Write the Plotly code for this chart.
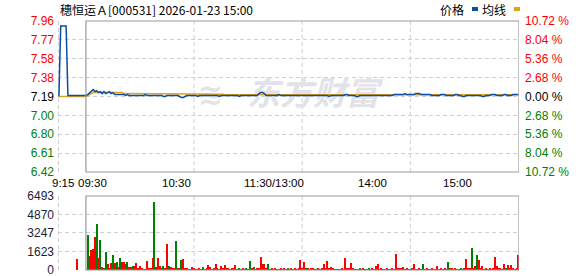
import plotly.graph_objects as go

# ---------------- data ----------------
prev_close = 7.19
title_text = "穗恒运Ａ[000531] 2026-01-23 15:00"

# call-auction minutes (9:15 .. 9:29) as offsets from 9:30
pre_minutes = [-15, -14, -13, -12, -11, -10, -9, -8, -7, -6, -5, -4, -3, -2, -1]
pre_price = [7.19, 7.91, 7.91, 7.91, 7.91, 7.20, 7.20, 7.20, 7.20, 7.20, 7.20, 7.20, 7.20, 7.20, 7.20]
pre_avg = [7.19, 7.19, 7.19, 7.19, 7.19, 7.19, 7.19, 7.19, 7.19, 7.19, 7.19, 7.19, 7.19, 7.19, 7.19]

# continuous session, minute index 0 (9:30) .. 240 (15:00), lunch collapsed
session_price = [
    7.20, 7.21, 7.23, 7.25, 7.26, 7.24, 7.25, 7.23, 7.24, 7.22,
    7.24, 7.22, 7.23, 7.24, 7.22, 7.23, 7.21, 7.21, 7.21, 7.21,
    7.21, 7.21, 7.20, 7.21, 7.20, 7.20, 7.20, 7.20, 7.20, 7.20,
    7.20, 7.20, 7.20, 7.21, 7.20, 7.20, 7.20, 7.20, 7.20, 7.20,
    7.20, 7.20, 7.20, 7.19, 7.19, 7.20, 7.20, 7.20, 7.20, 7.20,
    7.20, 7.20, 7.19, 7.18, 7.18, 7.19, 7.20, 7.20, 7.20, 7.20,
    7.20, 7.20, 7.19, 7.20, 7.20, 7.20, 7.20, 7.20, 7.20, 7.20,
    7.20, 7.20, 7.20, 7.20, 7.19, 7.20, 7.20, 7.20, 7.20, 7.20,
    7.20, 7.20, 7.20, 7.20, 7.20, 7.19, 7.20, 7.20, 7.20, 7.20,
    7.20, 7.20, 7.20, 7.20, 7.20, 7.20, 7.22, 7.23, 7.23, 7.22,
    7.20, 7.20, 7.20, 7.20, 7.20, 7.20, 7.20, 7.21, 7.20, 7.20,
    7.20, 7.20, 7.20, 7.20, 7.20, 7.20, 7.20, 7.20, 7.20, 7.20,
    7.20, 7.20, 7.20, 7.20, 7.20, 7.20, 7.20, 7.20, 7.20, 7.20,
    7.20, 7.20, 7.20, 7.20, 7.20, 7.19, 7.20, 7.20, 7.20, 7.20,
    7.20, 7.20, 7.20, 7.20, 7.21, 7.21, 7.20, 7.20, 7.20, 7.20,
    7.19, 7.19, 7.20, 7.20, 7.20, 7.20, 7.20, 7.20, 7.20, 7.20,
    7.20, 7.20, 7.20, 7.20, 7.20, 7.20, 7.20, 7.20, 7.20, 7.20,
    7.20, 7.21, 7.21, 7.21, 7.21, 7.21, 7.21, 7.22, 7.21, 7.21,
    7.21, 7.21, 7.21, 7.22, 7.22, 7.22, 7.21, 7.21, 7.21, 7.21,
    7.21, 7.21, 7.20, 7.20, 7.20, 7.20, 7.20, 7.21, 7.21, 7.21,
    7.20, 7.20, 7.20, 7.20, 7.20, 7.21, 7.21, 7.20, 7.20, 7.19,
    7.19, 7.20, 7.20, 7.20, 7.20, 7.20, 7.20, 7.20, 7.20, 7.20,
    7.19, 7.19, 7.20, 7.20, 7.20, 7.21, 7.21, 7.21, 7.20, 7.20,
    7.20, 7.20, 7.21, 7.21, 7.20, 7.20, 7.20, 7.21, 7.21, 7.21,
    7.21,
]
session_avg = [
    7.19, 7.20, 7.21, 7.22, 7.23, 7.23, 7.23, 7.23, 7.23, 7.23,
    7.23, 7.23, 7.23, 7.23, 7.23, 7.23, 7.23, 7.23, 7.23, 7.23,
    7.23, 7.22, 7.22, 7.22, 7.22, 7.22, 7.22, 7.22, 7.22, 7.22,
    7.22, 7.22, 7.22, 7.22, 7.22, 7.22, 7.22, 7.22, 7.214, 7.214,
    7.214, 7.214, 7.214, 7.214, 7.214, 7.214, 7.214, 7.214, 7.214, 7.214,
    7.214, 7.214, 7.214, 7.214, 7.214, 7.214, 7.214, 7.214, 7.214, 7.214,
    7.214, 7.214, 7.214, 7.214, 7.214, 7.214, 7.214, 7.214, 7.214, 7.214,
    7.214, 7.214, 7.214, 7.214, 7.214, 7.214, 7.214, 7.207, 7.207, 7.207,
    7.207, 7.207, 7.207, 7.207, 7.207, 7.207, 7.207, 7.207, 7.207, 7.207,
    7.207, 7.207, 7.207, 7.207, 7.207, 7.207, 7.207, 7.207, 7.207, 7.207,
    7.207, 7.207, 7.207, 7.207, 7.207, 7.207, 7.207, 7.207, 7.207, 7.207,
    7.207, 7.207, 7.207, 7.207, 7.207, 7.207, 7.207, 7.207, 7.207, 7.207,
    7.207, 7.207, 7.207, 7.207, 7.207, 7.207, 7.207, 7.207, 7.207, 7.207,
    7.207, 7.207, 7.207, 7.207, 7.207, 7.207, 7.207, 7.207, 7.207, 7.207,
    7.207, 7.207, 7.207, 7.207, 7.207, 7.207, 7.207, 7.207, 7.207, 7.207,
    7.207, 7.207, 7.207, 7.207, 7.207, 7.207, 7.207, 7.207, 7.207, 7.207,
    7.207, 7.207, 7.207, 7.207, 7.207, 7.207, 7.207, 7.207, 7.207, 7.207,
    7.207, 7.207, 7.207, 7.207, 7.207, 7.207, 7.207, 7.207, 7.207, 7.207,
    7.207, 7.207, 7.207, 7.207, 7.207, 7.207, 7.207, 7.207, 7.207, 7.207,
    7.207, 7.207, 7.207, 7.207, 7.207, 7.207, 7.207, 7.207, 7.207, 7.207,
    7.207, 7.207, 7.207, 7.207, 7.207, 7.207, 7.207, 7.207, 7.207, 7.207,
    7.207, 7.207, 7.207, 7.207, 7.207, 7.207, 7.207, 7.207, 7.207, 7.207,
    7.207, 7.207, 7.207, 7.207, 7.207, 7.207, 7.207, 7.207, 7.207, 7.207,
    7.207, 7.207, 7.207, 7.207, 7.207, 7.207, 7.207, 7.207, 7.207, 7.207,
    7.207,
]

# volume: 9:25 auction bar then one bar per minute 9:31 .. 15:00
auction_vol_minute = -5
auction_vol = 975
auction_dir = "r"
session_vol = [
    3071, 1228, 1755, 1843, 2866, 4036, 1053, 2632, 234, 150,
    1579, 526, 100, 614, 1316, 614, 702, 234, 1053, 702,
    702, 526, 702, 234, 234, 351, 385, 614, 200, 351,
    100, 80, 80, 790, 100, 100, 1053, 5966, 234, 1053,
    351, 100, 385, 200, 2281, 385, 234, 100, 100, 2544,
    90, 90, 877, 965, 150, 90, 80, 80, 234, 90,
    80, 80, 90, 80, 234, 80, 90, 400, 300, 80,
    90, 526, 90, 80, 351, 90, 400, 200, 90, 80,
    200, 200, 400, 80, 90, 80, 90, 80, 90, 80,
    790, 90, 234, 80, 90, 150, 1140, 526, 526, 90,
    526, 80, 90, 80, 90, 80, 80, 90, 80, 90,
    80, 90, 80, 90, 80, 90, 80, 90, 877, 90,
    702, 150, 90, 80, 90, 200, 80, 80, 90, 80,
    90, 526, 90, 790, 90, 234, 90, 80, 80, 80,
    80, 90, 80, 1053, 90, 90, 614, 90, 80, 80,
    80, 150, 80, 90, 80, 80, 90, 80, 90, 80,
    351, 526, 80, 90, 80, 80, 90, 80, 80, 90,
    80, 1404, 200, 200, 90, 234, 80, 90, 80, 80,
    90, 526, 80, 80, 90, 80, 526, 80, 90, 80,
    80, 90, 80, 80, 351, 80, 90, 80, 90, 80,
    702, 90, 200, 80, 90, 80, 80, 90, 80, 90,
    965, 90, 90, 1930, 90, 351, 1316, 877, 90, 351,
    80, 90, 80, 200, 80, 90, 1140, 351, 90, 100,
    80, 526, 90, 440, 90, 440, 90, 80, 90, 1316,
]
session_dir = (
    "grrrrgrgrg" "grrrgrgrgr" "rrgrrgrrrr" "rgrrrrrgrr" "rrgrrgrrrg"
    "rggrrrrrrr" "grrrgrrrrr" "rrrgrrrrrr" "rrrrgrrrgr" "grgrrrrrrr"
    "grrgrrrrgr" "rgrrrrrrrr" "rgrrrrrrrr" "rrrrrrrrrg" "rrrrrrrrrr"
    "rgrrrrgrrr" "rrrrrrrrrr" "rrrrrrgrrr" "rrrrrrgrrr" "rrgrrrrrrr"
    "grrrrrrgrr" "rrrgrrgrrr" "rrgrrrrrrr" "rrgrrrrrrr"
)

left_ticks = ["6.42", "6.61", "6.80", "7.00", "7.19", "7.38", "7.58", "7.77", "7.96"]
right_ticks = ["10.72 %", "8.04 %", "5.36 %", "2.68 %", "0.00 %", "2.68 %", "5.36 %", "8.04 %", "10.72 %"]
pct_steps = [-4, -3, -2, -1, 0, 1, 2, 3, 4]
pct_unit = 0.0268
vol_ticks = [0, 1623, 3247, 4870, 6493]
time_labels = ["9:15", "09:30", "10:30", "11:30/13:00", "14:00", "15:00"]
time_label_pos = [-13.0, 3.7, 50.3, 104.5, 159.1, 206.2]
grid_minutes = [60, 120, 180]

# ---------------- style ----------------
RED = "#ff0000"
GREEN = "#008000"
BLACK = "#000000"
PRICE_C = "#0b4ea2"
AVG_C = "#e3a21a"
GRID_C = "#cfcfcf"
BOX_C = "#9a9a9a"
DASH = "4px,3px"
FONT = "Liberation Sans"
CJK = "Noto Sans CJK SC"
WM_C = "#e2e2e8"

x_all = pre_minutes + list(range(0, 241))
price_all = pre_price + session_price
avg_all = pre_avg + session_avg

vol_x = [auction_vol_minute] + list(range(1, 241))
vol_y = [auction_vol] + session_vol
vol_c = [RED if d == "r" else GREEN for d in (auction_dir + session_dir)]

tickvals = [prev_close * (1 + s * pct_unit) for s in pct_steps]
def colored(txt, s):
    c = RED if s > 0 else (GREEN if s < 0 else BLACK)
    return f"<span style='color:{c}'>{txt}</span>"
left_text = [colored(t, s) for t, s in zip(left_ticks, pct_steps)]
right_text = [colored(t, s) for t, s in zip(right_ticks, pct_steps)]

H, W = 276, 578
ML, MR = 58, 59
mt, mb = 21, 6
ph = H - mt - mb
pw = W - ML - MR
price_dom = [(H - mb - 172) / ph, 1.0]
vol_dom = [0.0, (H - mb - 196) / ph]

xr = [-15.5, 240.3]

def px_x(p):
    return (p - ML) / pw

def px_y(p):
    return (H - mb - p) / ph

fig = go.Figure()

# watermark below the lines
fig.add_trace(go.Scatter(
    x=[126.0], y=[7.183], mode="text", text=["<b><i>东方财富</i></b>"],
    textfont=dict(family=CJK, size=33, color=WM_C),
    xaxis="x", yaxis="y", hoverinfo="skip", showlegend=False,
))
fig.add_trace(go.Scatter(
    x=[69.0], y=[7.183], mode="text", text=["<b>≋</b>"],
    textfont=dict(family="DejaVu Sans", size=30, color=WM_C),
    xaxis="x", yaxis="y", hoverinfo="skip", showlegend=False,
))
fig.add_trace(go.Scatter(
    x=x_all, y=avg_all, mode="lines", line=dict(color=AVG_C, width=1.5),
    xaxis="x", yaxis="y", showlegend=False, hoverinfo="skip",
))
fig.add_trace(go.Scatter(
    x=x_all, y=price_all, mode="lines", line=dict(color=PRICE_C, width=1.5),
    xaxis="x", yaxis="y", showlegend=False, hoverinfo="skip",
))
# right-axis companion (invisible)
fig.add_trace(go.Scatter(
    x=[xr[0]], y=[prev_close], mode="markers", marker=dict(opacity=0),
    xaxis="x", yaxis="y2", showlegend=False, hoverinfo="skip",
))
fig.add_trace(go.Bar(
    x=vol_x, y=vol_y, marker=dict(color=vol_c, line=dict(width=0)), width=0.6,
    xaxis="x2", yaxis="y3", showlegend=False, hoverinfo="skip",
))

yrange = [tickvals[0], tickvals[-1]]
fig.update_layout(
    width=W, height=H,
    margin=dict(l=ML, r=MR, t=mt, b=mb, pad=0, autoexpand=False),
    paper_bgcolor="white", plot_bgcolor="white",
    bargap=0,
    xaxis=dict(domain=[0, 1], range=xr, anchor="y", showticklabels=False,
               showgrid=False, zeroline=False, showline=False, automargin=False),
    xaxis2=dict(domain=[0, 1], range=xr, anchor="y3", matches="x", showticklabels=False,
                showgrid=False, zeroline=False, showline=False, automargin=False),
    yaxis=dict(domain=price_dom, range=yrange, tickmode="array", tickvals=tickvals,
               ticktext=left_text, showgrid=True, gridcolor=GRID_C, griddash=DASH,
               gridwidth=1, zeroline=False, showline=False, automargin=False,
               ticklabeloverflow="allow",
               tickfont=dict(family=FONT, size=12), ticks="", ticklabelstandoff=3),
    yaxis2=dict(overlaying="y", side="right", anchor="x", range=yrange, tickmode="array",
                tickvals=tickvals, ticktext=right_text, showgrid=False, zeroline=False,
                showline=False, tickfont=dict(family=FONT, size=12), ticks="",
                ticklabeloverflow="allow", automargin=False, ticklabelstandoff=5),
    yaxis3=dict(domain=vol_dom, anchor="x2", range=[-2, vol_ticks[-1]], tickmode="array",
                tickvals=vol_ticks, ticktext=[str(v) for v in vol_ticks],
                showgrid=True, gridcolor=GRID_C, griddash=DASH, gridwidth=1,
                zeroline=False, showline=False, automargin=False,
                ticklabeloverflow="allow",
                tickfont=dict(family=FONT, size=12, color="#1c1c3c"), ticks="",
                ticklabelstandoff=3),
)

shapes = []
for yref in ["y domain", "y3 domain"]:
    for gm in grid_minutes:
        shapes.append(dict(type="line", xref="x", yref=yref, x0=gm, x1=gm, y0=0, y1=1,
                           line=dict(color=GRID_C, width=1, dash=DASH), layer="below"))
    shapes.append(dict(type="line", xref="paper", yref=yref, x0=0.001, x1=0.001, y0=0, y1=1,
                       line=dict(color=GRID_C, width=1, dash=DASH), layer="below"))
    shapes.append(dict(type="rect", xref="x", yref=yref, x0=0, x1=xr[1], y0=0, y1=1,
                       line=dict(color=BOX_C, width=1.2), layer="above"))

# legend swatches
shapes.append(dict(type="rect", xref="paper", yref="paper",
                   x0=px_x(472), x1=px_x(478), y0=px_y(11), y1=px_y(7),
                   fillcolor=PRICE_C, line=dict(width=0)))
shapes.append(dict(type="rect", xref="paper", yref="paper",
                   x0=px_x(514), x1=px_x(520), y0=px_y(11), y1=px_y(7),
                   fillcolor=AVG_C, line=dict(width=0)))
fig.update_layout(shapes=shapes)

ann = []
ann.append(dict(text=title_text, xref="paper", yref="paper",
                x=0, y=px_y(9), xanchor="left", yanchor="middle",
                showarrow=False, font=dict(family=CJK, size=12, color="#000000")))
ann.append(dict(text="价格", xref="paper", yref="paper", x=px_x(466),
                y=px_y(9), xanchor="right", yanchor="middle",
                showarrow=False, font=dict(family=CJK, size=12, color="#000000")))
ann.append(dict(text="均线", xref="paper", yref="paper", x=px_x(508),
                y=px_y(9), xanchor="right", yanchor="middle",
                showarrow=False, font=dict(family=CJK, size=12, color="#000000")))
for lbl, pos in zip(time_labels, time_label_pos):
    ann.append(dict(text=lbl, xref="x", yref="paper", x=pos,
                    y=px_y(182.5), xanchor="center", yanchor="middle",
                    showarrow=False, font=dict(family=FONT, size=11.5, color="#000000")))
fig.update_layout(annotations=ann)

fig.write_html("out.html")
